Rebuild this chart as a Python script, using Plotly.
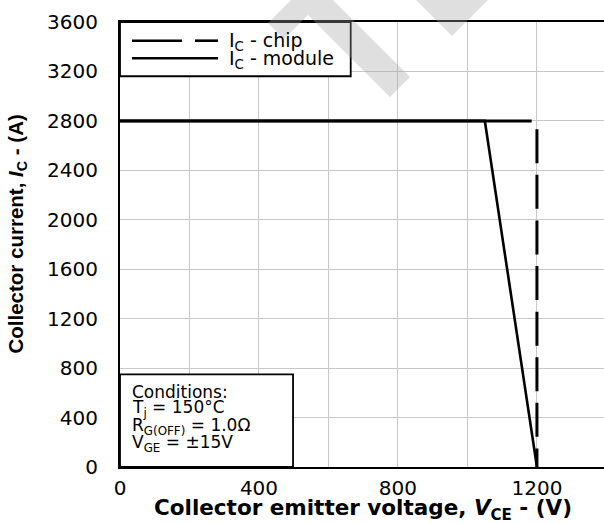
import plotly.graph_objects as go

# ---------------- data ----------------
chip_v = [0, 1200, 1200]
chip_i = [2800, 2800, 0]
module_v = [0, 1050, 1200]
module_i = [2800, 2800, 0]
x_tick_vals = [0, 400, 800, 1200]
x_tick_text = ["0", "400", "800", "1200"]
y_tick_vals = [0, 400, 800, 1200, 1600, 2000, 2400, 2800, 3200, 3600]
y_tick_text = [str(v) for v in y_tick_vals]
legend_labels = ["I<sub>C</sub> - chip", "I<sub>C</sub> - module"]
cond_lines = ["Conditions:", "T<sub>j</sub> = 150°C",
              "R<sub>G(OFF)</sub> = 1.0Ω", "V<sub>GE</sub> = ±15V"]

# ---------------- layout geometry ----------------
W, H = 604, 523
L, R, T, B = 120, 0, 22, 56
X_MAX = 1393


def pp(px, py):
    return (px - L) / (W - L - R), (H - B - py) / (H - T - B)


# dash pattern for chip line: long solid run along the top, then dashed drop
dash_parts = ["411.7px", "13.6px"] + ["34px", "11.6px"] * 9
chip_dash = ",".join(dash_parts)

fig = go.Figure()
fig.add_trace(go.Scatter(x=module_v, y=module_i, mode="lines",
                         line=dict(color="black", width=2.6),
                         showlegend=False, name="IC - module"))
fig.add_trace(go.Scatter(x=chip_v, y=chip_i, mode="lines",
                         line=dict(color="black", width=3, dash=chip_dash),
                         showlegend=False, name="IC - chip"))

shapes = []
# legend box and conditions box (data coords)
shapes.append(dict(type="rect", xref="x", yref="y", x0=0, x1=664, y0=3161, y1=3600,
                   fillcolor="white", line=dict(color="black", width=1.8), layer="above"))
shapes.append(dict(type="rect", xref="x", yref="y", x0=0, x1=498, y0=0, y1=750,
                   fillcolor="white", line=dict(color="black", width=1.8), layer="above"))


def seg(x0, x1, y, width):
    a = pp(x0, y)
    b = pp(x1, y)
    return dict(type="line", xref="paper", yref="paper", x0=a[0], y0=a[1], x1=b[0], y1=b[1],
                line=dict(color="black", width=width), layer="above")


# legend samples
shapes.append(seg(132, 182, 40.7, 2.6))
shapes.append(seg(195, 218, 40.7, 2.6))
shapes.append(seg(132, 218, 58.3, 2.6))


def poly(points):
    s = ""
    for k, (px, py) in enumerate(points):
        x, y = pp(px, py)
        s += ("M" if k == 0 else "L") + f"{x:.5f},{y:.5f} "
    return s + "Z"


# watermark shapes
wm1 = [(268, 23), (291, 0), (333, 0), (410, 77), (390, 97), (308, 15), (284, 39)]
wm2 = [(416, 0), (488, 0), (452, 36)]
for p in (wm1, wm2):
    shapes.append(dict(type="path", xref="paper", yref="paper", path=poly(p),
                       fillcolor="#a0a0a0", opacity=0.34, line=dict(width=0), layer="above"))

annotations = []
leg_font = dict(family="DejaVu Sans", size=19, color="black")
for lab, yb in zip(legend_labels, [41.5, 59.0]):
    x, y = pp(227, yb)
    annotations.append(dict(text=lab, xref="paper", yref="paper", x=x, y=y,
                            xanchor="left", yanchor="middle", showarrow=False, font=leg_font))

cond_font = dict(family="DejaVu Sans", size=17, color="black")
for lab, yc in zip(cond_lines, [391.5, 408.5, 426, 443.5]):
    x, y = pp(130, yc)
    annotations.append(dict(text=lab, xref="paper", yref="paper", x=x, y=y,
                            xanchor="left", yanchor="middle", showarrow=False, font=cond_font))

# axis titles
x, y = pp(362.5, 509.5)
annotations.append(dict(text="Collector emitter voltage, <i>V</i><sub>CE</sub> - (V)",
                        xref="paper", yref="paper", x=x, y=y, xanchor="center", yanchor="middle",
                        showarrow=False,
                        font=dict(family="DejaVu Sans", size=21.5, color="black", weight="bold")))
x, y = pp(16.5, 234)
annotations.append(dict(text="Collector current, <i>I</i><sub>C</sub> - (A)",
                        xref="paper", yref="paper", x=x, y=y, xanchor="center", yanchor="middle",
                        textangle=-90, showarrow=False,
                        font=dict(family="Liberation Sans", size=20.5, color="black", weight="bold")))

fig.update_layout(
    width=W, height=H,
    margin=dict(l=L, r=R, t=T, b=B, pad=0),
    paper_bgcolor="white", plot_bgcolor="white",
    shapes=shapes, annotations=annotations,
    showlegend=False,
)
fig.update_xaxes(range=[0, X_MAX], tickvals=x_tick_vals, ticktext=x_tick_text,
                 showgrid=True, gridcolor="#c8c8c8", gridwidth=1.3,
                 minor=dict(dtick=200, showgrid=True, gridcolor="#c8c8c8", gridwidth=1.3),
                 showline=True, linecolor="black", linewidth=2.2, mirror=True,
                 ticks="", ticklabelstandoff=2, zeroline=False,
                 tickfont=dict(family="DejaVu Sans", size=20, color="black"))
fig.update_yaxes(range=[0, 3600], tickvals=y_tick_vals, ticktext=y_tick_text,
                 showgrid=True, gridcolor="#c8c8c8", gridwidth=1.3,
                 showline=True, linecolor="black", linewidth=2.2, mirror=False,
                 ticks="", ticklabelstandoff=16, zeroline=False,
                 tickfont=dict(family="DejaVu Sans", size=20, color="black"))

fig.write_html("out.html")
